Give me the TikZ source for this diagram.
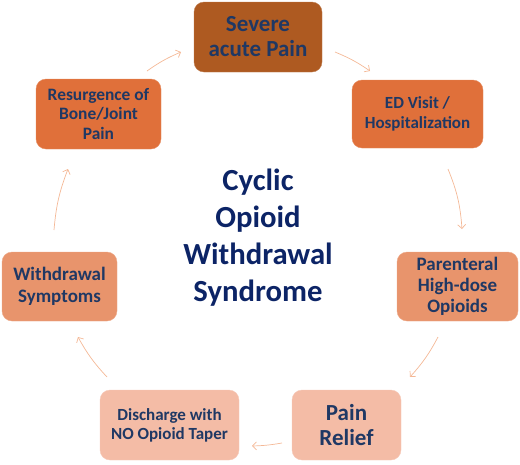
\documentclass[tikz,border=0pt]{standalone}
\usepackage{fontspec}
\setmainfont{Carlito}
\usetikzlibrary{arrows.meta}
\definecolor{cSev}{HTML}{AE5A21}
\definecolor{cMid}{HTML}{E0703A}
\definecolor{cLt}{HTML}{E8946C}
\definecolor{cPale}{HTML}{F4BCA6}
\definecolor{cTxt}{HTML}{1F3864}
\definecolor{cTitle}{HTML}{0C2466}
\definecolor{cArr}{HTML}{F4B896}
\tikzset{
  box/.style={rounded corners=10pt, align=center, inner sep=0pt, text=cTxt, font=\bfseries},
  arr/.style={draw=cArr, line width=0.7pt, -{Straight Barb[length=4pt,width=8pt]}},
}
\begin{document}
\begin{tikzpicture}[x=1pt,y=-1pt]
\useasboundingbox (0,0) rectangle (520,464);
\node[box, fill=cSev, draw=cSev!80!white, minimum width=128pt, minimum height=70pt,
  font=\bfseries\fontsize{23}{25}\selectfont] (sev) at (258,37) {Severe\\acute Pain};
\node[box, fill=cMid, draw=cMid!80!white, minimum width=131pt, minimum height=68pt,
  font=\bfseries\fontsize{17}{20}\selectfont] (ed) at (417.5,114) {ED Visit /\\Hospitalization};
\node[box, fill=cLt, draw=cLt!80!white, minimum width=121pt, minimum height=69pt,
  font=\bfseries\fontsize{19}{21}\selectfont] (par) at (457.5,286.5) {Parenteral\\High-dose\\Opioids};
\node[box, fill=cPale, draw=cPale!80!white, minimum width=109pt, minimum height=70pt,
  font=\bfseries\fontsize{23}{25}\selectfont] (rel) at (346.5,425) {Pain\\Relief};
\node[box, fill=cPale, draw=cPale!80!white, minimum width=139pt, minimum height=70pt,
  font=\bfseries\fontsize{17}{19}\selectfont] (dis) at (169.5,425) {Discharge with\\NO Opioid Taper};
\node[box, fill=cLt, draw=cLt!80!white, minimum width=115pt, minimum height=69pt,
  font=\bfseries\fontsize{19}{22}\selectfont] (wd) at (59.5,286.5) {Withdrawal\\Symptoms};
\node[box, fill=cMid, draw=cMid!80!white, minimum width=125pt, minimum height=70pt,
  font=\bfseries\fontsize{17.4}{19.5}\selectfont] (res) at (98.5,114) {Resurgence of\\Bone/Joint\\Pain};
\node[align=center, text=cTitle, font=\bfseries\fontsize{30.7}{37}\selectfont] (title) at (258,238)
  {Cyclic\\Opioid\\Withdrawal\\Syndrome};
\coordinate (a1s) at (147,71); \coordinate (a1e) at (181,52);
\coordinate (a2s) at (335,52); \coordinate (a2e) at (370,71);
\coordinate (a3s) at (448,169); \coordinate (a3e) at (462,229);
\coordinate (a4s) at (438,337); \coordinate (a4e) at (410,377);
\coordinate (a5s) at (282,443); \coordinate (a5e) at (252,446);
\coordinate (a6s) at (107,377); \coordinate (a6e) at (78,337);
\coordinate (a7s) at (54,230); \coordinate (a7e) at (68,169);
\draw[arr] (a1s) to[bend left=6] (a1e);
\draw[arr] (a2s) to[bend left=6] (a2e);
\draw[arr] (a3s) to[bend left=9] (a3e);
\draw[arr] (a4s) to[bend left=7] (a4e);
\draw[arr] (a5s) to[bend left=4] (a5e);
\draw[arr] (a6s) to[bend left=7] (a6e);
\draw[arr] (a7s) to[bend left=8] (a7e);
\end{tikzpicture}
\end{document}
